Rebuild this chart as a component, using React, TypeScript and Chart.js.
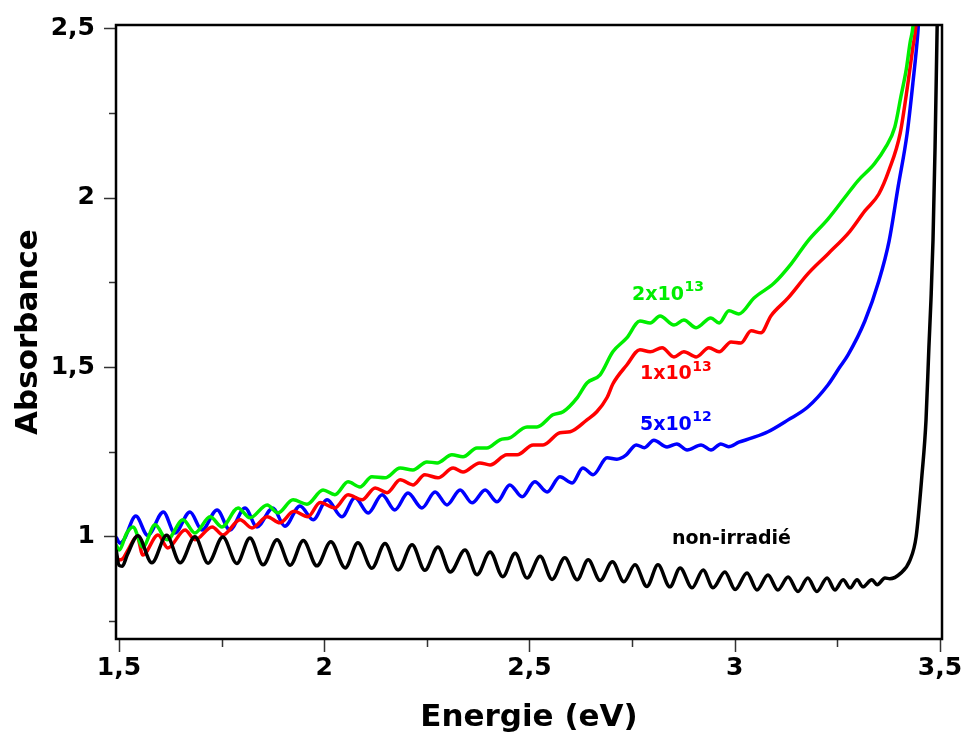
import React, { useEffect, useRef } from "react";
import { Chart, registerables } from "chart.js";

Chart.register(...registerables);

// ---------- data ----------
const BLACK_E = [1.493,1.5,1.508,1.52,1.546,1.58,1.616,1.649,1.685,1.717,1.753,1.787,1.819,1.851,1.885,1.917,1.949,1.982,2.016,2.051,2.082,2.116,2.148,2.18,2.214,2.245,2.277,2.307,2.343,2.372,2.404,2.435,2.465,2.494,2.526,2.555,2.586,2.616,2.643,2.672,2.702,2.73,2.757,2.786,2.813,2.842,2.867,2.896,2.923,2.947,2.976,3.001,3.03,3.054,3.081,3.105,3.13,3.154,3.178,3.2,3.225,3.244,3.264,3.281,3.298,3.312,3.334,3.347,3.366,3.378,3.403,3.427,3.442,3.456,3.466,3.473,3.478,3.483,3.488,3.493,3.496];
const BLACK_A = [0.96,0.915,0.912,0.945,1.002,0.922,1.003,0.922,0.999,0.921,0.998,0.92,0.995,0.916,0.99,0.915,0.988,0.913,0.984,0.907,0.981,0.906,0.979,0.901,0.975,0.9,0.969,0.895,0.96,0.887,0.954,0.881,0.95,0.877,0.941,0.873,0.937,0.872,0.931,0.87,0.925,0.866,0.916,0.852,0.916,0.851,0.907,0.848,0.901,0.848,0.895,0.843,0.892,0.842,0.886,0.842,0.88,0.837,0.877,0.837,0.877,0.842,0.872,0.848,0.872,0.851,0.872,0.857,0.877,0.875,0.89,0.93,1.0,1.18,1.344,1.559,1.698,1.875,2.15,2.5,2.7];

const BLUE_E = [1.493,1.502,1.512,1.541,1.57,1.608,1.636,1.673,1.702,1.739,1.77,1.807,1.836,1.875,1.904,1.941,1.973,2.007,2.043,2.075,2.107,2.141,2.172,2.204,2.238,2.27,2.299,2.331,2.36,2.392,2.421,2.452,2.482,2.513,2.543,2.574,2.604,2.63,2.655,2.689,2.713,2.735,2.76,2.78,2.803,2.835,2.859,2.884,2.918,2.942,2.966,2.985,3.01,3.04,3.081,3.13,3.178,3.227,3.256,3.276,3.317,3.351,3.376,3.398,3.42,3.434,3.446,3.452];
const BLUE_A = [0.998,0.98,0.99,1.06,1.003,1.072,1.01,1.072,1.019,1.078,1.019,1.084,1.028,1.084,1.03,1.09,1.049,1.108,1.058,1.114,1.069,1.123,1.078,1.128,1.084,1.131,1.093,1.137,1.099,1.137,1.102,1.152,1.117,1.161,1.131,1.176,1.158,1.202,1.182,1.232,1.228,1.24,1.27,1.262,1.284,1.264,1.273,1.255,1.27,1.255,1.273,1.265,1.278,1.29,1.309,1.344,1.382,1.447,1.5,1.536,1.636,1.754,1.872,2.032,2.19,2.339,2.487,2.6];

const RED_E = [1.493,1.5,1.51,1.522,1.544,1.558,1.595,1.619,1.661,1.685,1.727,1.753,1.795,1.824,1.861,1.892,1.926,1.96,1.99,2.026,2.058,2.092,2.124,2.153,2.185,2.216,2.245,2.277,2.314,2.338,2.379,2.404,2.445,2.47,2.509,2.533,2.574,2.599,2.64,2.664,2.689,2.703,2.737,2.769,2.794,2.823,2.852,2.876,2.906,2.937,2.962,2.991,3.015,3.04,3.064,3.088,3.13,3.178,3.227,3.28,3.317,3.351,3.376,3.403,3.422,3.434,3.441,3.446];
const RED_A = [0.945,0.93,0.935,0.96,1.0,0.945,1.004,0.966,1.019,0.99,1.028,1.004,1.049,1.025,1.058,1.04,1.074,1.058,1.1,1.084,1.123,1.108,1.143,1.129,1.167,1.152,1.182,1.173,1.202,1.19,1.217,1.211,1.241,1.241,1.27,1.27,1.306,1.309,1.344,1.368,1.41,1.45,1.506,1.551,1.545,1.557,1.53,1.545,1.53,1.557,1.545,1.574,1.571,1.607,1.601,1.651,1.704,1.775,1.834,1.9,1.961,2.011,2.082,2.19,2.339,2.445,2.504,2.6];

const GREEN_E = [1.493,1.5,1.519,1.534,1.558,1.588,1.617,1.656,1.685,1.722,1.751,1.79,1.819,1.861,1.887,1.924,1.958,1.997,2.026,2.058,2.087,2.116,2.148,2.185,2.216,2.25,2.275,2.311,2.338,2.372,2.396,2.428,2.452,2.494,2.518,2.557,2.582,2.616,2.64,2.672,2.703,2.737,2.769,2.794,2.818,2.852,2.876,2.906,2.942,2.962,2.986,3.01,3.047,3.096,3.137,3.178,3.227,3.269,3.3,3.34,3.368,3.39,3.405,3.418,3.427,3.434,3.44];
const GREEN_A = [0.975,0.96,1.01,1.028,0.969,1.034,0.99,1.049,1.01,1.058,1.028,1.084,1.055,1.093,1.069,1.108,1.095,1.137,1.123,1.161,1.146,1.176,1.173,1.202,1.196,1.22,1.217,1.241,1.235,1.261,1.261,1.285,1.291,1.323,1.323,1.359,1.368,1.409,1.453,1.477,1.545,1.586,1.636,1.63,1.651,1.624,1.639,1.616,1.645,1.63,1.666,1.657,1.704,1.748,1.804,1.872,1.937,2.002,2.05,2.1,2.15,2.209,2.3,2.38,2.457,2.504,2.6];

const X_MAJOR = [1.5, 2, 2.5, 3, 3.5];
const X_MAJOR_LABELS = ["1,5", "2", "2,5", "3", "3,5"];
const X_MINOR = [1.75, 2.25, 2.75, 3.25];
const Y_MAJOR = [1, 1.5, 2, 2.5];
const Y_MAJOR_LABELS = ["1", "1,5", "2", "2,5"];
const Y_MINOR = [0.75, 1.25, 1.75, 2.25];

const SERIES_NAMES = ["non-irradié", "2x10^13", "1x10^13", "5x10^12"];

const FONT = "'DejaVu Sans', Verdana, sans-serif";

const LABELS = [
  { main: "2x10", sup: "13", x: 2.7497, y: 1.714, color: "#00ee00" },
  { main: "1x10", sup: "13", x: 2.769, y: 1.478, color: "#ff0000" },
  { main: "5x10", sup: "12", x: 2.769, y: 1.328, color: "#0000ff" },
  { main: "non-irradié", sup: "", x: 2.847, y: 0.993, color: "#000000" },
];

const pts = (xs: number[], ys: number[]) => xs.map((x, i) => ({ x, y: ys[i] }));

const decorPlugin = {
  id: "decor",
  afterDatasetsDraw(chart: any) {
    const { ctx, chartArea: a, scales } = chart;
    const xs = scales.x;
    const ys = scales.y;
    ctx.save();
    ctx.strokeStyle = "#333";
    ctx.lineWidth = 1.5;
    const seg = (x1: number, y1: number, x2: number, y2: number) => {
      ctx.beginPath();
      ctx.moveTo(x1, y1);
      ctx.lineTo(x2, y2);
      ctx.stroke();
    };
    X_MAJOR.forEach((v) => { const p = Math.round(xs.getPixelForValue(v)) + 0.5; seg(p, a.bottom, p, a.bottom + 13); });
    X_MINOR.forEach((v) => { const p = Math.round(xs.getPixelForValue(v)) + 0.5; seg(p, a.bottom, p, a.bottom + 8); });
    Y_MAJOR.forEach((v) => { const p = Math.round(ys.getPixelForValue(v)) + 0.5; seg(a.left - 12, p, a.left, p); });
    Y_MINOR.forEach((v) => { const p = Math.round(ys.getPixelForValue(v)) + 0.5; seg(a.left - 7, p, a.left, p); });
    ctx.strokeStyle = "#000";
    ctx.lineWidth = 2.5;
    ctx.strokeRect(a.left, a.top, a.right - a.left, a.bottom - a.top);
    LABELS.forEach((l) => {
      const px = xs.getPixelForValue(l.x);
      const py = ys.getPixelForValue(l.y);
      ctx.fillStyle = l.color;
      ctx.textAlign = "left";
      ctx.textBaseline = "middle";
      ctx.font = `bold 19px ${FONT}`;
      ctx.fillText(l.main, px, py);
      if (l.sup) {
        const w = ctx.measureText(l.main).width;
        ctx.font = `bold 14px ${FONT}`;
        ctx.fillText(l.sup, px + w + 0.5, py - 7.5);
      }
    });
    ctx.restore();
  },
};

export default function App() {
  const ref = useRef<HTMLCanvasElement | null>(null);
  useEffect(() => {
    if (!ref.current) return;
    const chart = new Chart(ref.current, {
      type: "line",
      data: {
        datasets: [
          { label: SERIES_NAMES[0], data: pts(BLACK_E, BLACK_A), borderColor: "#000000" },
          { label: SERIES_NAMES[1], data: pts(GREEN_E, GREEN_A), borderColor: "#00ee00" },
          { label: SERIES_NAMES[2], data: pts(RED_E, RED_A), borderColor: "#ff0000" },
          { label: SERIES_NAMES[3], data: pts(BLUE_E, BLUE_A), borderColor: "#0000ff" },
        ].map((d) => ({
          ...d,
          borderWidth: 3.5,
          pointRadius: 0,
          fill: false,
          cubicInterpolationMode: "monotone" as const,
        })),
      },
      options: {
        responsive: false,
        animation: false,
        devicePixelRatio: 1,
        layout: { padding: { top: 25, right: 22, left: 0, bottom: 0 } },
        plugins: { legend: { display: false }, tooltip: { enabled: false } },
        scales: {
          x: {
            type: "linear",
            min: 1.4927,
            max: 3.5049,
            grid: { display: false, drawTicks: false },
            border: { display: false },
            afterBuildTicks: (s: any) => { s.ticks = X_MAJOR.map((v) => ({ value: v })); },
            afterFit: (s: any) => {
              s.height = 99;
              s.paddingLeft = 0;
              s.paddingRight = 0;
              s.paddingTop = 0;
              s.paddingBottom = 0;
            },
            ticks: {
              autoSkip: false,
              maxRotation: 0,
              padding: 14,
              color: "#000",
              font: { family: FONT, size: 25, weight: "bold" },
              callback: (_v: any, i: number) => X_MAJOR_LABELS[i],
            },
            title: {
              display: true,
              text: "Energie (eV)",
              color: "#000",
              font: { family: FONT, size: 31, weight: "bold" },
              padding: { top: 0, bottom: 1 },
            },
          },
          y: {
            type: "linear",
            min: 0.697,
            max: 2.51,
            grid: { display: false, drawTicks: false },
            border: { display: false },
            afterBuildTicks: (s: any) => { s.ticks = Y_MAJOR.map((v) => ({ value: v })); },
            afterFit: (s: any) => {
              s.width = 116;
              s.paddingLeft = 0;
              s.paddingRight = 0;
              s.paddingTop = 0;
              s.paddingBottom = 0;
            },
            ticks: {
              autoSkip: false,
              padding: 21,
              color: "#000",
              font: { family: FONT, size: 25, weight: "bold" },
              callback: (_v: any, i: number) => Y_MAJOR_LABELS[i],
            },
            title: {
              display: true,
              text: "Absorbance",
              color: "#000",
              font: { family: FONT, size: 31, weight: "bold" },
              padding: { top: 10, bottom: 0 },
            },
          },
        },
      },
      plugins: [decorPlugin],
    } as any);
    return () => chart.destroy();
  }, []);
  return (
    <div style={{ position: "absolute", left: 0, top: 0, width: 964, height: 738, background: "#fff" }}>
      <canvas ref={ref} width={964} height={738} style={{ display: "block" }} />
    </div>
  );
}
